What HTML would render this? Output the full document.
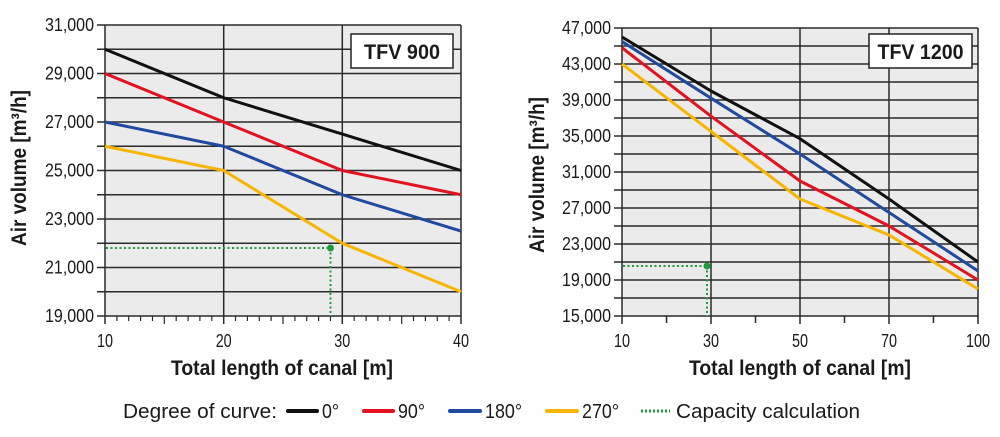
<!DOCTYPE html>
<html><head><meta charset="utf-8"><style>
html,body{margin:0;padding:0;background:#fff;}
svg{display:block;}
text{font-family:"Liberation Sans Narrow","Liberation Sans",sans-serif;fill:#1a1a1a;}
</style></head><body>
<svg width="1000" height="437" viewBox="0 0 1000 437" xmlns="http://www.w3.org/2000/svg">
<!-- LEFT CHART -->
<rect x="105" y="25" width="356" height="291" fill="#ebebeb"/>
<g stroke="#2a2a2a" stroke-width="1.5">
<line x1="97" y1="25" x2="461" y2="25"/><line x1="97" y1="49.25" x2="461" y2="49.25"/>
<line x1="97" y1="73.5" x2="461" y2="73.5"/><line x1="97" y1="97.75" x2="461" y2="97.75"/>
<line x1="97" y1="122" x2="461" y2="122"/><line x1="97" y1="146.25" x2="461" y2="146.25"/>
<line x1="97" y1="170.5" x2="461" y2="170.5"/><line x1="97" y1="194.75" x2="461" y2="194.75"/>
<line x1="97" y1="219" x2="461" y2="219"/><line x1="97" y1="243.25" x2="461" y2="243.25"/>
<line x1="97" y1="267.5" x2="461" y2="267.5"/><line x1="97" y1="291.75" x2="461" y2="291.75"/>
<line x1="97" y1="316" x2="461" y2="316"/>
<line x1="105" y1="25" x2="105" y2="324"/><line x1="223.7" y1="25" x2="223.7" y2="324"/>
<line x1="342.3" y1="25" x2="342.3" y2="324"/><line x1="461" y1="25" x2="461" y2="324"/>
</g>
<g stroke="#2a2a2a" stroke-width="1.2">
<path d="M116.9 316v5M128.7 316v5M140.6 316v5M152.5 316v5M164.3 316v8M176.2 316v5M188.1 316v5M199.9 316v5M211.8 316v5M235.5 316v5M247.4 316v5M259.3 316v5M271.1 316v5M283 316v8M294.9 316v5M306.7 316v5M318.6 316v5M330.5 316v5M354.2 316v5M366.1 316v5M377.9 316v5M389.8 316v5M401.7 316v8M413.5 316v5M425.4 316v5M437.3 316v5M449.1 316v5"/>
</g>
<g fill="none" stroke-width="3" stroke-linejoin="round">
<polyline stroke="#111" points="105,49.25 223.7,97.75 342.3,134.1 461,170.5"/>
<polyline stroke="#e3121f" points="105,73.5 223.7,122 342.3,170.5 461,194.75"/>
<polyline stroke="#1f4aa0" points="105,122 223.7,146.25 342.3,194.75 461,231.1"/>
<polyline stroke="#f8b500" points="105,146.25 223.7,170.5 342.3,243.25 461,291.75"/>
</g>
<g stroke="#1e9a3c" stroke-width="2" stroke-dasharray="2,2.5" fill="none">
<line x1="106" y1="248" x2="330.5" y2="248"/><line x1="330.5" y1="248" x2="330.5" y2="316"/>
</g>
<circle cx="330.5" cy="248" r="3.5" fill="#1e9a3c"/>
<rect x="351" y="34" width="102" height="34" fill="#fff" stroke="#222" stroke-width="1.5"/>
<text x="402" y="59" text-anchor="middle" font-size="21" font-weight="bold" textLength="76" lengthAdjust="spacingAndGlyphs">TFV 900</text>
<g font-size="18" text-anchor="end">
<text x="94" y="31" textLength="49" lengthAdjust="spacingAndGlyphs">31,000</text>
<text x="94" y="79.5" textLength="49" lengthAdjust="spacingAndGlyphs">29,000</text>
<text x="94" y="128" textLength="49" lengthAdjust="spacingAndGlyphs">27,000</text>
<text x="94" y="176.5" textLength="49" lengthAdjust="spacingAndGlyphs">25,000</text>
<text x="94" y="225" textLength="49" lengthAdjust="spacingAndGlyphs">23,000</text>
<text x="94" y="273.5" textLength="49" lengthAdjust="spacingAndGlyphs">21,000</text>
<text x="94" y="322" textLength="49" lengthAdjust="spacingAndGlyphs">19,000</text>
</g>
<g font-size="18" text-anchor="middle">
<text x="105" y="347" textLength="16" lengthAdjust="spacingAndGlyphs">10</text><text x="223.7" y="347" textLength="16" lengthAdjust="spacingAndGlyphs">20</text><text x="342.3" y="347" textLength="16" lengthAdjust="spacingAndGlyphs">30</text><text x="461" y="347" textLength="16" lengthAdjust="spacingAndGlyphs">40</text>
</g>
<text x="282" y="375" text-anchor="middle" font-size="21" font-weight="bold" textLength="222" lengthAdjust="spacingAndGlyphs">Total length of canal [m]</text>
<text transform="translate(26,168) rotate(-90)" text-anchor="middle" font-size="21" font-weight="bold" textLength="156" lengthAdjust="spacingAndGlyphs">Air volume [m³/h]</text>

<!-- RIGHT CHART -->
<rect x="622" y="28" width="356" height="288" fill="#ebebeb"/>
<g stroke="#2a2a2a" stroke-width="1.5">
<line x1="614" y1="28" x2="978" y2="28"/><line x1="614" y1="46" x2="978" y2="46"/>
<line x1="614" y1="64" x2="978" y2="64"/><line x1="614" y1="82" x2="978" y2="82"/>
<line x1="614" y1="100" x2="978" y2="100"/><line x1="614" y1="118" x2="978" y2="118"/>
<line x1="614" y1="136" x2="978" y2="136"/><line x1="614" y1="154" x2="978" y2="154"/>
<line x1="614" y1="172" x2="978" y2="172"/><line x1="614" y1="190" x2="978" y2="190"/>
<line x1="614" y1="208" x2="978" y2="208"/><line x1="614" y1="226" x2="978" y2="226"/>
<line x1="614" y1="244" x2="978" y2="244"/><line x1="614" y1="262" x2="978" y2="262"/>
<line x1="614" y1="280" x2="978" y2="280"/><line x1="614" y1="298" x2="978" y2="298"/>
<line x1="614" y1="316" x2="978" y2="316"/>
<line x1="622" y1="28" x2="622" y2="324"/><line x1="711" y1="28" x2="711" y2="324"/>
<line x1="800" y1="28" x2="800" y2="324"/><line x1="889" y1="28" x2="889" y2="324"/>
<line x1="978" y1="28" x2="978" y2="324"/>
<path d="M666.5 316v7M755.5 316v7M844.5 316v7M933.5 316v7"/>
</g>
<g fill="none" stroke-width="3" stroke-linejoin="round">
<polyline stroke="#111" points="622,37 711,91 800,138.7 889,199 978,262"/>
<polyline stroke="#1f4aa0" points="622,41.5 711,98.2 800,154 889,212.5 978,271"/>
<polyline stroke="#e3121f" points="622,47.8 711,116.2 800,181 889,226 978,280"/>
<polyline stroke="#f8b500" points="622,64 711,131.5 800,199 889,235 978,289"/>
</g>
<g stroke="#1e9a3c" stroke-width="2" stroke-dasharray="2,2.5" fill="none">
<line x1="623" y1="266" x2="707" y2="266"/><line x1="707" y1="266" x2="707" y2="316"/>
</g>
<circle cx="707" cy="266" r="3.5" fill="#1e9a3c"/>
<rect x="869" y="34" width="103" height="34" fill="#fff" stroke="#222" stroke-width="1.5"/>
<text x="920.5" y="59" text-anchor="middle" font-size="21" font-weight="bold" textLength="86" lengthAdjust="spacingAndGlyphs">TFV 1200</text>
<g font-size="18" text-anchor="end">
<text x="611" y="34" textLength="49" lengthAdjust="spacingAndGlyphs">47,000</text>
<text x="611" y="70" textLength="49" lengthAdjust="spacingAndGlyphs">43,000</text>
<text x="611" y="106" textLength="49" lengthAdjust="spacingAndGlyphs">39,000</text>
<text x="611" y="142" textLength="49" lengthAdjust="spacingAndGlyphs">35,000</text>
<text x="611" y="178" textLength="49" lengthAdjust="spacingAndGlyphs">31,000</text>
<text x="611" y="214" textLength="49" lengthAdjust="spacingAndGlyphs">27,000</text>
<text x="611" y="250" textLength="49" lengthAdjust="spacingAndGlyphs">23,000</text>
<text x="611" y="286" textLength="49" lengthAdjust="spacingAndGlyphs">19,000</text>
<text x="611" y="322" textLength="49" lengthAdjust="spacingAndGlyphs">15,000</text>
</g>
<g font-size="18" text-anchor="middle">
<text x="622" y="347" textLength="16" lengthAdjust="spacingAndGlyphs">10</text><text x="711" y="347" textLength="16" lengthAdjust="spacingAndGlyphs">30</text><text x="800" y="347" textLength="16" lengthAdjust="spacingAndGlyphs">50</text><text x="889" y="347" textLength="16" lengthAdjust="spacingAndGlyphs">70</text><text x="978" y="347" textLength="24" lengthAdjust="spacingAndGlyphs">100</text>
</g>
<text x="800" y="375" text-anchor="middle" font-size="21" font-weight="bold" textLength="222" lengthAdjust="spacingAndGlyphs">Total length of canal [m]</text>
<text transform="translate(544,175) rotate(-90)" text-anchor="middle" font-size="21" font-weight="bold" textLength="156" lengthAdjust="spacingAndGlyphs">Air volume [m³/h]</text>

<!-- LEGEND -->
<g font-size="20">
<text x="123" y="418" textLength="154" lengthAdjust="spacingAndGlyphs">Degree of curve:</text>
<line x1="288" y1="411" x2="317" y2="411" stroke="#111" stroke-width="4" stroke-linecap="round"/>
<text x="322" y="418" textLength="17" lengthAdjust="spacingAndGlyphs">0°</text>
<line x1="364" y1="411" x2="393" y2="411" stroke="#e3121f" stroke-width="4" stroke-linecap="round"/>
<text x="398" y="418" textLength="27" lengthAdjust="spacingAndGlyphs">90°</text>
<line x1="450" y1="411" x2="480" y2="411" stroke="#1f4aa0" stroke-width="4" stroke-linecap="round"/>
<text x="485" y="418" textLength="37" lengthAdjust="spacingAndGlyphs">180°</text>
<line x1="547" y1="411" x2="577" y2="411" stroke="#f8b500" stroke-width="4" stroke-linecap="round"/>
<text x="582" y="418" textLength="37" lengthAdjust="spacingAndGlyphs">270°</text>
<line x1="641" y1="411" x2="670" y2="411" stroke="#1e9a3c" stroke-width="3" stroke-dasharray="2,2"/>
<text x="676" y="418" textLength="184" lengthAdjust="spacingAndGlyphs">Capacity calculation</text>
</g>
</svg>
</body></html>
